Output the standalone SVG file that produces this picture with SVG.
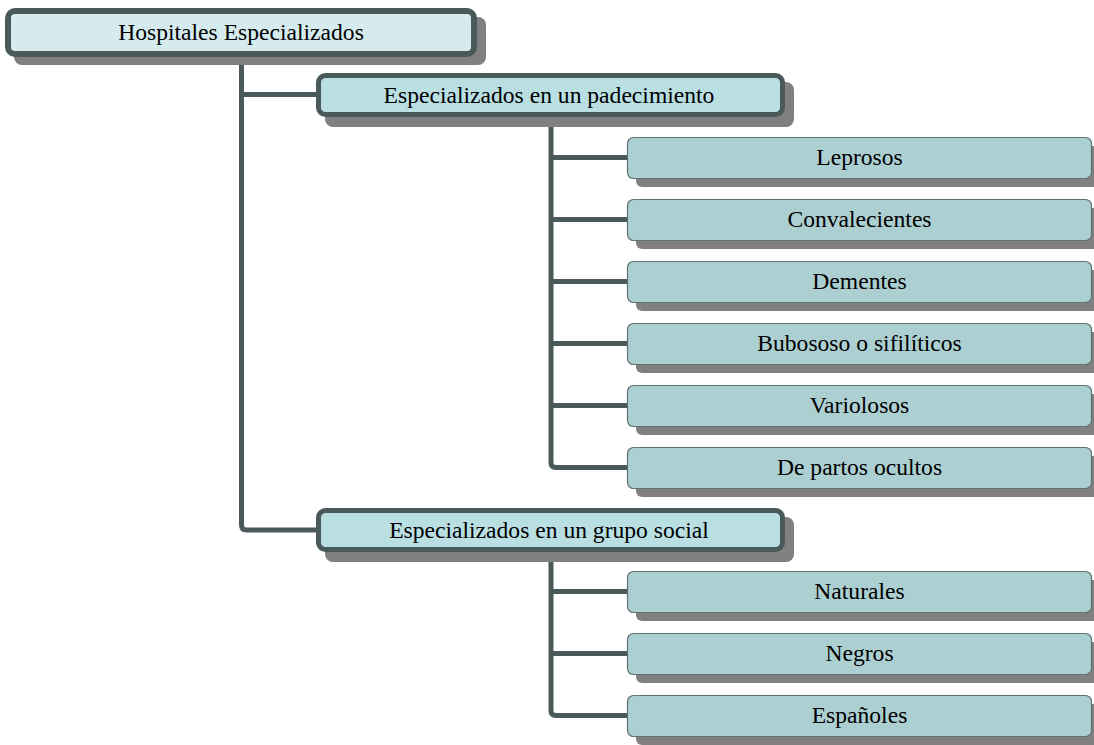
<svg xmlns="http://www.w3.org/2000/svg" width="1094" height="745" viewBox="0 0 1094 745">
<style>
.shadow{fill:#808080}
.root{fill:#D6EBEE;stroke:#4A5A5A;stroke-width:6}
.l1{fill:#B9DFE3;stroke:#4A5A5A;stroke-width:5}
.l2{fill:#ACCFD1;stroke:#5E7272;stroke-width:1.2}
.conn{fill:none;stroke:#4A5A5A;stroke-width:5}
text{font-family:"Liberation Serif","Times New Roman",serif;font-size:23.6px;fill:#000;text-anchor:middle;dominant-baseline:central}
</style>
<rect width="1094" height="745" fill="#fff"/>
<g id="connectors">
<path class="conn" d="M241.5 57 V525 Q241.5 530 246.5 530 H318"/>
<path class="conn" d="M241.5 94.5 H318"/>
<path class="conn" d="M551 117 V462.5 Q551 467.5 556 467.5 H628"/>
<path class="conn" d="M551 157.5 H628 M551 219.5 H628 M551 281.5 H628 M551 343.5 H628 M551 405.5 H628"/>
<path class="conn" d="M551 552 V710.5 Q551 715.5 556 715.5 H628"/>
<path class="conn" d="M551 591.5 H628 M551 653.5 H628"/>
</g>
<g id="root">
<rect class="shadow" x="14" y="17" width="472" height="48" rx="8"/>
<rect class="root" x="8" y="11" width="466" height="43" rx="7"/>
<text x="241" y="32">Hospitales Especializados</text>
</g>
<g id="padecimiento">
<rect class="shadow" x="325" y="82" width="469" height="45" rx="8"/>
<rect class="l1" x="318.5" y="75.5" width="464" height="39" rx="7"/>
<text x="549" y="95">Especializados en un padecimiento</text>
</g>
<g id="grupo-social">
<rect class="shadow" x="325" y="517" width="469" height="45" rx="8"/>
<rect class="l1" x="318.5" y="510.5" width="464" height="39" rx="7"/>
<text x="549" y="530">Especializados en un grupo social</text>
</g>
<g id="leprosos">
<rect class="shadow" x="636" y="146" width="465" height="41" rx="6"/>
<rect class="l2" x="627.5" y="137.5" width="464" height="41" rx="6"/>
<text x="859.5" y="157">Leprosos</text>
</g>
<g id="convalecientes">
<rect class="shadow" x="636" y="208" width="465" height="41" rx="6"/>
<rect class="l2" x="627.5" y="199.5" width="464" height="41" rx="6"/>
<text x="859.5" y="219">Convalecientes</text>
</g>
<g id="dementes">
<rect class="shadow" x="636" y="270" width="465" height="41" rx="6"/>
<rect class="l2" x="627.5" y="261.5" width="464" height="41" rx="6"/>
<text x="859.5" y="281">Dementes</text>
</g>
<g id="bubosos">
<rect class="shadow" x="636" y="332" width="465" height="41" rx="6"/>
<rect class="l2" x="627.5" y="323.5" width="464" height="41" rx="6"/>
<text x="859.5" y="343">Bubososo o sifilíticos</text>
</g>
<g id="variolosos">
<rect class="shadow" x="636" y="394" width="465" height="41" rx="6"/>
<rect class="l2" x="627.5" y="385.5" width="464" height="41" rx="6"/>
<text x="859.5" y="405">Variolosos</text>
</g>
<g id="partos">
<rect class="shadow" x="636" y="456" width="465" height="41" rx="6"/>
<rect class="l2" x="627.5" y="447.5" width="464" height="41" rx="6"/>
<text x="859.5" y="467">De partos ocultos</text>
</g>
<g id="naturales">
<rect class="shadow" x="636" y="580" width="465" height="41" rx="6"/>
<rect class="l2" x="627.5" y="571.5" width="464" height="41" rx="6"/>
<text x="859.5" y="591">Naturales</text>
</g>
<g id="negros">
<rect class="shadow" x="636" y="642" width="465" height="41" rx="6"/>
<rect class="l2" x="627.5" y="633.5" width="464" height="41" rx="6"/>
<text x="859.5" y="653">Negros</text>
</g>
<g id="espanoles">
<rect class="shadow" x="636" y="704" width="465" height="41" rx="6"/>
<rect class="l2" x="627.5" y="695.5" width="464" height="41" rx="6"/>
<text x="859.5" y="715">Españoles</text>
</g>
</svg>
